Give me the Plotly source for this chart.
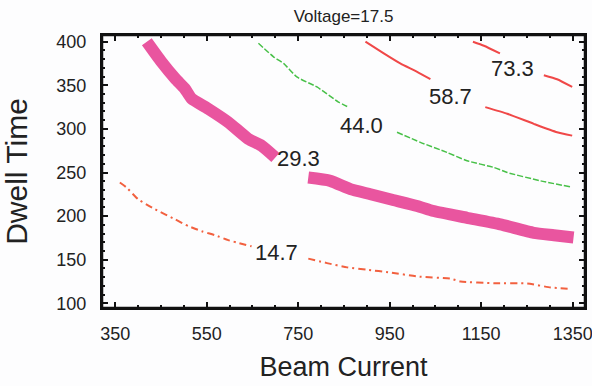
import plotly.graph_objects as go

# ---- data ----
title_text = "Voltage=17.5"
x_label = "Beam Current"
y_label = "Dwell Time"
x_ticks = [350, 550, 750, 950, 1150, 1350]
y_ticks = [100, 150, 200, 250, 300, 350, 400]

# contour 14.7 (two pieces around its label)
c147_a_x = [360, 375, 400, 437, 481, 510, 539, 568, 597, 648]
c147_a_y = [238.5, 232.7, 219.3, 207.8, 196.2, 188.5, 182.7, 178.1, 172.4, 165.4]
c147_b_x = [772, 813, 857, 900, 951, 1010, 1083, 1105, 1178, 1251, 1302, 1345]
c147_b_y = [151.2, 146.1, 141.2, 138.5, 135.4, 130.8, 128.2, 125.0, 123.1, 122.7, 118.1, 116.6]

# contour 29.3
c293_a_x = [419, 451, 481, 502, 517, 553, 597, 641, 670, 700]
c293_a_y = [400, 376.9, 357.8, 346.2, 334.7, 323.2, 307.7, 288.5, 280.8, 267.3]
c293_b_x = [772, 820, 864, 908, 951, 1010, 1046, 1119, 1192, 1265, 1309, 1352]
c293_b_y = [244.2, 240.4, 230.9, 225.1, 219.3, 211.6, 205.8, 198.1, 190.5, 180.8, 178.1, 175.5]

# contour 44.0
c440_a_x = [663, 696, 718, 747, 791, 838, 860]
c440_a_y = [398.2, 382.7, 375.1, 359.6, 348.1, 330.8, 325.0]
c440_b_x = [966, 1017, 1075, 1119, 1178, 1207, 1280, 1345]
c440_b_y = [296.2, 284.6, 273.1, 263.5, 255.8, 250.0, 240.4, 233.5]

# contour 58.7
c587_a_x = [897, 937, 973, 1010, 1039]
c587_a_y = [400, 386.6, 375.1, 365.4, 357.0]
c587_b_x = [1159, 1207, 1265, 1316, 1349]
c587_b_y = [325.0, 317.4, 305.8, 296.2, 292.3]

# contour 73.3
c733_a_x = [1132, 1156, 1191]
c733_a_y = [400, 395.4, 386.6]
c733_b_x = [1287, 1316, 1349]
c733_b_y = [361.6, 357.0, 348.1]

label_text = ["14.7", "29.3", "44.0", "58.7", "73.3"]
label_x = [702, 750, 888, 1083, 1218]
label_y = [158, 266, 304, 337, 369]

# ---- styles ----
styles = {
    "14.7": dict(color="#f2603f", width=2, dash="7px,4px,2px,4px"),
    "29.3": dict(color="#e9559f", width=12, dash="solid"),
    "44.0": dict(color="#48c048", width=1.5, dash="6px,2px"),
    "58.7": dict(color="#f04848", width=2, dash="solid"),
    "73.3": dict(color="#f04848", width=2, dash="solid"),
}

pieces = [
    ("14.7", c147_a_x, c147_a_y), ("14.7", c147_b_x, c147_b_y),
    ("29.3", c293_a_x, c293_a_y), ("29.3", c293_b_x, c293_b_y),
    ("44.0", c440_a_x, c440_a_y), ("44.0", c440_b_x, c440_b_y),
    ("58.7", c587_a_x, c587_a_y), ("58.7", c587_b_x, c587_b_y),
    ("73.3", c733_a_x, c733_a_y), ("73.3", c733_b_x, c733_b_y),
]

fig = go.Figure()
for name, xs, ys in pieces:
    fig.add_trace(go.Scatter(x=xs, y=ys, mode="lines",
                             line=dict(shape="spline", smoothing=0.5, **styles[name]),
                             showlegend=False, hoverinfo="skip"))

font_main = "Liberation Sans, Arial, sans-serif"
for t, x, y in zip(label_text, label_x, label_y):
    fig.add_annotation(x=x, y=y, text=t, showarrow=False,
                       font=dict(family=font_main, size=22, color="#222222"))

axis_common = dict(
    showgrid=False, zeroline=False, automargin=False,
    showline=True, linecolor="#111111", linewidth=2, mirror="ticks",
    ticks="inside", ticklen=6, tickwidth=2, tickcolor="#111111",
    ticklabeloverflow="allow",
    tickfont=dict(family=font_main, size=18, color="#222222"),
)

fig.update_layout(
    width=592, height=386,
    margin=dict(l=102, r=7, t=35, b=78, autoexpand=False),
    paper_bgcolor="#fdfdfe", plot_bgcolor="#fdfdfe",
    title=dict(text=title_text, x=0.5, xref="paper", xanchor="center",
               y=1 - 16 / 386, yanchor="middle", yref="container", automargin=False,
               font=dict(family=font_main, size=17, color="#222222")),
    xaxis=dict(range=[321, 1377], tickvals=x_ticks, ticklabelstandoff=8,
               minor=dict(dtick=50, ticks="inside", ticklen=3, tickwidth=1.5, tickcolor="#111111"),
               title=dict(text=x_label, standoff=15, font=dict(family=font_main, size=27, color="#222222")),
               **axis_common),
    yaxis=dict(range=[94.6, 407.7], tickvals=y_ticks, ticklabelstandoff=10,
               minor=dict(dtick=10, ticks="inside", ticklen=3, tickwidth=1.5, tickcolor="#111111"),
               title=dict(text=y_label, standoff=26, font=dict(family=font_main, size=30, color="#222222")),
               **axis_common),
    shapes=[dict(type="rect", xref="paper", yref="paper", x0=0, y0=0, x1=1, y1=1,
                 line=dict(color="#111111", width=2.5), layer="above")],
)

# remove the default page margin so the figure sits at the window's top-left corner
fig.write_html("out.html", config={"displayModeBar": False},
               post_script="document.body.style.margin='0';document.body.style.overflow='hidden';")
